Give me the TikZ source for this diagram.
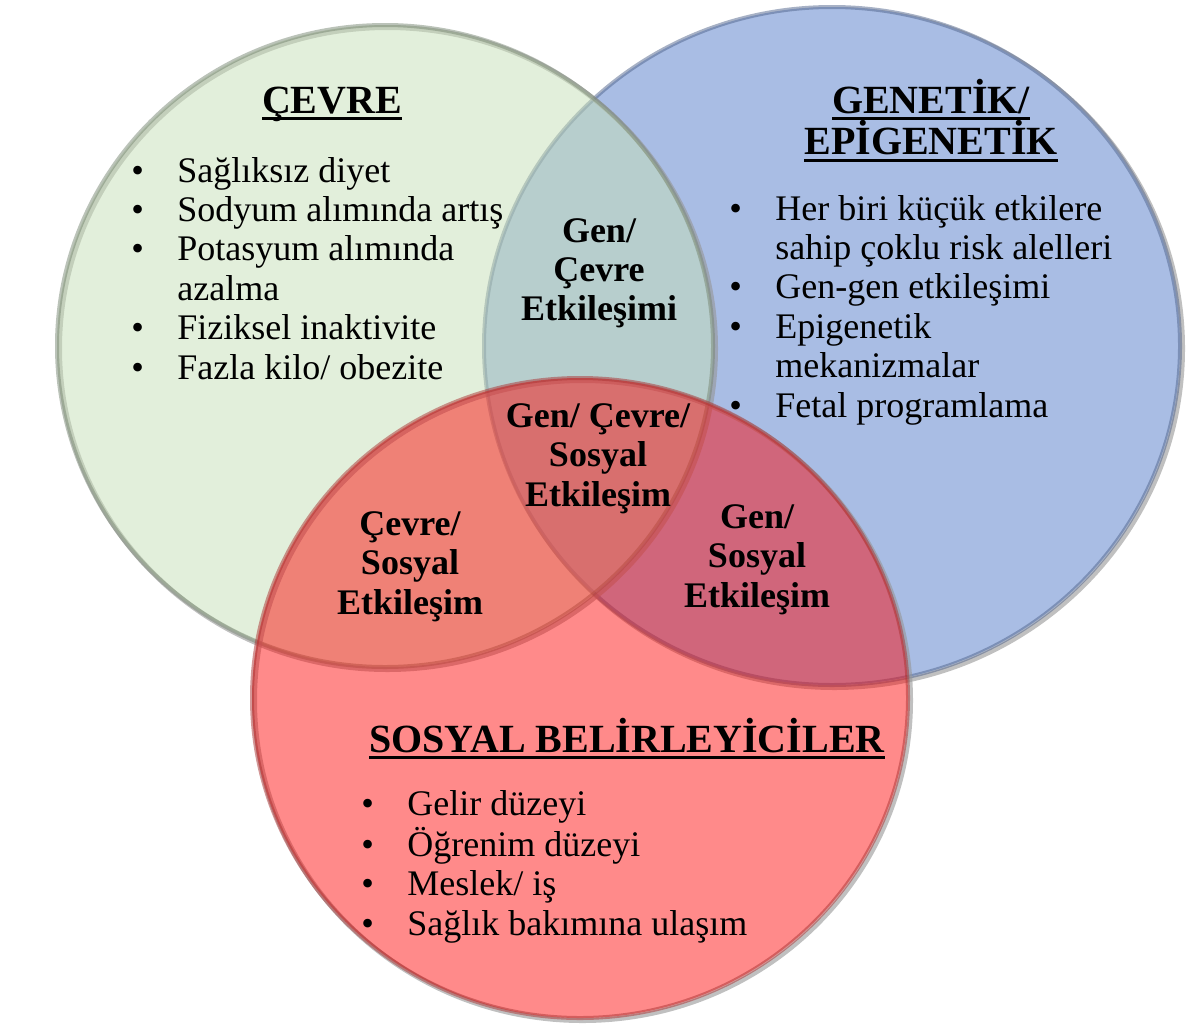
\documentclass[tikz,border=0pt]{standalone}
\usepackage{fontspec}
\setmainfont{Liberation Serif}
\usetikzlibrary{math}
\usetikzlibrary{positioning}

\definecolor{cevre}{RGB}{198,223,183}
\definecolor{cevreline}{RGB}{120,135,115}
\definecolor{genetik}{RGB}{169,189,228}
\definecolor{genetikline}{RGB}{80,100,140}
\definecolor{sosyal}{RGB}{255,0,0}
\definecolor{sosyalline}{RGB}{170,50,50}
\definecolor{golge}{RGB}{150,150,150}

% underline with fixed depth
\newsavebox{\cizgikutu}
\newcommand{\altcizgi}[1]{\sbox{\cizgikutu}{#1}\rlap{\smash{\usebox{\cizgikutu}}}\rule[-3.9pt]{\wd\cizgikutu}{1.6pt}}

% bullet list: bullet column + text column
\newenvironment{maddeler}{\begin{tabular}[t]{@{}p{0.92cm}@{}l@{}}}{\end{tabular}}
\newenvironment{ortala}{\begin{tabular}[t]{@{}c@{}}}{\end{tabular}}

\tikzset{
  baslik/.style={inner sep=0, anchor=base, font=\bfseries\fontsize{22.76}{23.9}\selectfont},
  metin/.style={inner sep=0, anchor=base west, font=\fontsize{20.49}{22.48}\selectfont},
  kesisim/.style={inner sep=0, anchor=base, font=\bfseries\fontsize{20.49}{22.48}\selectfont},
  golgeli/.style={draw=golge, draw opacity=0.6, line width=0.1cm},
  kenar/.style={line width=0.08cm, draw opacity=0.5}
}

\begin{document}
\begin{tikzpicture}[x=0.02cm,y=-0.02cm]

  \tikzmath{
    \gx = 385; \gy = 346; \grx = 328; \gry = 321; % Cevre circle
    \bx = 832; \by = 346; \brx = 348; \bry = 339; % Genetik circle
    \rx = 580; \ry = 698; \rrx = 328; \rry = 320; % Sosyal circle
    \sh = 2.5;                                     % shadow offset
  }

  \useasboundingbox (0,0) rectangle (1192,1028);

  \coordinate (G) at (\gx,\gy);
  \coordinate (B) at (\bx,\by);
  \coordinate (R) at (\rx,\ry);

  % Genetik / Epigenetik
  \draw[golgeli] ([shift={(\sh,\sh)}]B) ellipse [x radius=\brx, y radius=\bry];
  \filldraw[kenar, fill=genetik, draw=genetikline] (B) ellipse [x radius=\brx, y radius=\bry];

  % Cevre
  \draw[golgeli] ([shift={(\sh,\sh)}]G) ellipse [x radius=\grx, y radius=\gry];
  \filldraw[kenar, fill=cevre, fill opacity=0.5, draw=cevreline] (G) ellipse [x radius=\grx, y radius=\gry];

  % Sosyal belirleyiciler
  \draw[golgeli] ([shift={(\sh,\sh)}]R) ellipse [x radius=\rrx, y radius=\rry];
  \filldraw[kenar, fill=sosyal, fill opacity=0.46, draw=sosyalline] (R) ellipse [x radius=\rrx, y radius=\rry];

  % titles
  \node[baslik] (cevreT) at (332,113) {\altcizgi{ÇEVRE}};
  \node[baslik] (genT) at (931,113) {\begin{ortala}\altcizgi{GENETİK/}\\\altcizgi{EPİGENETİK}\end{ortala}};
  \node[baslik] (sosT) at (627,752) {\altcizgi{SOSYAL BELİRLEYİCİLER}};

  % lists
  \node[metin] (cevreL) at (131,182) {\begin{maddeler}
    \textbullet & Sağlıksız diyet\\
    \textbullet & Sodyum alımında artış\\
    \textbullet & Potasyum alımında\\
                & azalma\\
    \textbullet & Fiziksel inaktivite\\
    \textbullet & Fazla kilo/ obezite
  \end{maddeler}};

  \node[metin] (genL) at (729,220) {\begin{maddeler}
    \textbullet & Her biri küçük etkilere\\
                & sahip çoklu risk alelleri\\
    \textbullet & Gen-gen etkileşimi\\
    \textbullet & Epigenetik\\
                & mekanizmalar\\
    \textbullet & Fetal programlama
  \end{maddeler}};

  \node[metin] (sosL) at (361,815) {\begin{maddeler}
    \textbullet & Gelir düzeyi\\
    \textbullet & Öğrenim düzeyi\\
    \textbullet & Meslek/ iş\\
    \textbullet & Sağlık bakımına ulaşım
  \end{maddeler}};

  % overlaps
  \node[kesisim] (GB) at (599,242) {\begin{ortala}Gen/\\Çevre\\Etkileşimi\end{ortala}};
  \node[kesisim] (GBR) at (598,427) {\begin{ortala}Gen/ Çevre/\\Sosyal\\Etkileşim\end{ortala}};
  \node[kesisim] (GR) at (410,535) {\begin{ortala}Çevre/\\Sosyal\\Etkileşim\end{ortala}};
  \node[kesisim] (BR) at (757,528) {\begin{ortala}Gen/\\Sosyal\\Etkileşim\end{ortala}};

\end{tikzpicture}
\end{document}
